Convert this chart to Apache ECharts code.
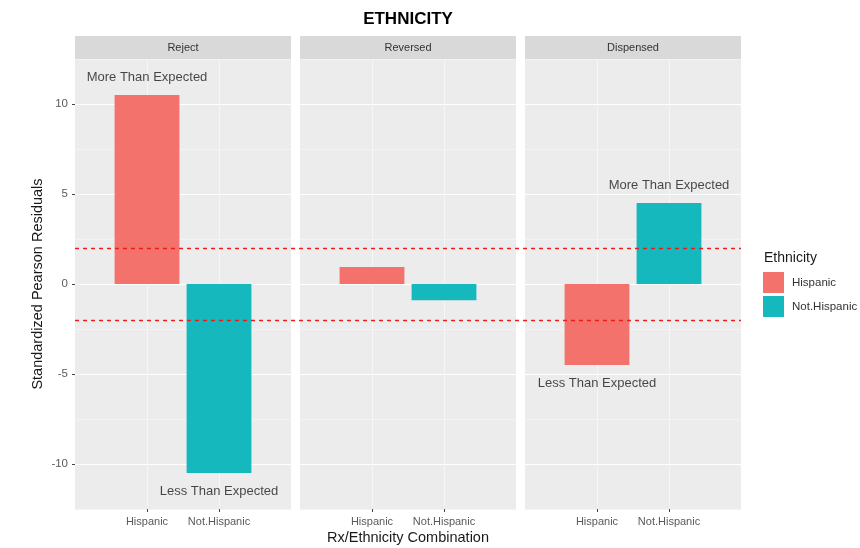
<!DOCTYPE html>
<html>
<head>
<meta charset="utf-8">
<script src="https://cdn.jsdelivr.net/npm/echarts@6/dist/echarts.min.js"></script>
<style>
  html, body { margin: 0; padding: 0; background: #ffffff; }
  #chart { width: 860px; height: 548px; }
</style>
</head>
<body>
<div id="chart"></div>
<script>
// Standardized Pearson residuals by Rx outcome and ethnicity
const panels = ['Reject', 'Reversed', 'Dispensed'];
const categories = ['Hispanic', 'Not.Hispanic'];
const hispanic = [10.5, 0.95, -4.5];
const notHispanic = [-10.5, -0.9, 4.5];
const thresholds = [2, -2];
const yTicks = [-10, -5, 0, 5, 10];

// text notes placed over the bars
const notePanel = ['Reject', 'Reject', 'Dispensed', 'Dispensed'];
const noteCategory = ['Hispanic', 'Not.Hispanic', 'Not.Hispanic', 'Hispanic'];
const noteY = [11.5, -11.5, 5.5, -5.5];
const noteText = ['More Than Expected', 'Less Than Expected', 'More Than Expected', 'Less Than Expected'];

const FONT = '"Liberation Sans", Arial, sans-serif';
const COLORS = { 'Hispanic': '#F3736C', 'Not.Hispanic': '#14B8BD' };
const PANEL_LEFT = [75, 300, 525];
const PANEL_W = 216;
const PANEL_TOP = 59;
const PANEL_H = 450;
const Y_MIN = -12.5, Y_MAX = 12.5;
const PX_PER_UNIT = PANEL_H / (Y_MAX - Y_MIN);

// one empty slot on each side so the two categories sit at 1/3 and 2/3 of a panel
const slots = [' '].concat(categories, ['  ']);
const isInner = (idx) => idx > 0 && idx < slots.length - 1;

const grid = [], xAxis = [], yAxis = [], series = [];

panels.forEach((panel, i) => {
  grid.push({
    left: PANEL_LEFT[i], top: PANEL_TOP, width: PANEL_W, height: PANEL_H,
    show: true, backgroundColor: '#ECECEC', borderWidth: 0,
    containLabel: false, outerBoundsMode: 'none'
  });
  xAxis.push({
    gridIndex: i, type: 'category', data: slots, boundaryGap: false, position: 'bottom',
    axisLine: { show: false, onZero: false },
    axisTick: { show: true, interval: isInner, length: 3, lineStyle: { color: '#444' } },
    axisLabel: { interval: 0, formatter: (v) => v.trim(), fontSize: 11, color: '#5A5A5A', margin: 7, fontFamily: FONT },
    splitLine: { show: true, interval: isInner, lineStyle: { color: '#F6F6F6', width: 1 } }
  });
  yAxis.push({
    gridIndex: i, type: 'value', min: Y_MIN, max: Y_MAX, interval: 2.5,
    axisLabel: { show: false }, axisTick: { show: false }, axisLine: { show: false },
    splitLine: { show: true, lineStyle: { color: ['#F3F3F3', '#FFFFFF'], width: 1 } }
  });

  series.push({
    type: 'bar', name: 'Hispanic', xAxisIndex: i, yAxisIndex: i,
    data: slots.map((s) => (s === 'Hispanic' ? hispanic[i] : null)),
    barWidth: '90%', barGap: '-100%', z: 2,
    itemStyle: { color: COLORS['Hispanic'] }
  });
  series.push({
    type: 'bar', name: 'Not.Hispanic', xAxisIndex: i, yAxisIndex: i,
    data: slots.map((s) => (s === 'Not.Hispanic' ? notHispanic[i] : null)),
    barWidth: '90%', barGap: '-100%', z: 2,
    itemStyle: { color: COLORS['Not.Hispanic'] }
  });

  const notes = [];
  notePanel.forEach((p, n) => {
    if (p === panel) {
      notes.push({ name: noteText[n], value: [slots.indexOf(noteCategory[n]), noteY[n]] });
    }
  });
  if (notes.length) {
    series.push({
      type: 'scatter', xAxisIndex: i, yAxisIndex: i, data: notes,
      symbolSize: 1, itemStyle: { color: 'rgba(0,0,0,0)' }, z: 6, silent: true,
      label: { show: true, position: 'inside', formatter: '{b}', fontSize: 13, color: '#1A1A1A', fontFamily: FONT }
    });
  }
});

// overlay spanning all panels for the ±2 reference lines
const overlay = grid.length;
grid.push({
  left: PANEL_LEFT[0], top: PANEL_TOP,
  width: PANEL_LEFT[2] + PANEL_W - PANEL_LEFT[0], height: PANEL_H,
  show: false, containLabel: false, outerBoundsMode: 'none'
});
xAxis.push({ gridIndex: overlay, type: 'value', min: 0, max: 1, show: false });
yAxis.push({ gridIndex: overlay, type: 'value', min: Y_MIN, max: Y_MAX, show: false });
series.push({
  type: 'line', xAxisIndex: overlay, yAxisIndex: overlay,
  data: [[0, 0]], symbol: 'none', lineStyle: { opacity: 0 }, z: 5, silent: true,
  markLine: {
    silent: true, symbol: 'none', label: { show: false },
    lineStyle: { color: '#EE1C1C', type: [4, 4], width: 1.3 },
    data: thresholds.map((t) => ({ yAxis: t }))
  }
});

// left axis with ticks only at the labelled values
const tickGrid = grid.length;
const tMax = Math.max(...yTicks), tMin = Math.min(...yTicks);
grid.push({
  left: PANEL_LEFT[0], width: 10,
  top: PANEL_TOP + (Y_MAX - tMax) * PX_PER_UNIT,
  height: (tMax - tMin) * PX_PER_UNIT,
  show: false, containLabel: false, outerBoundsMode: 'none'
});
xAxis.push({ gridIndex: tickGrid, type: 'value', show: false });
yAxis.push({
  gridIndex: tickGrid, type: 'value', min: tMin, max: tMax, interval: 5,
  axisLine: { show: false, onZero: false },
  axisTick: { show: true, length: 3, lineStyle: { color: '#444' } },
  axisLabel: { show: true, fontSize: 11.5, color: '#5A5A5A', margin: 7, fontFamily: FONT },
  splitLine: { show: false }
});

// facet strips, title and axis titles
const graphic = [];
panels.forEach((panel, i) => {
  graphic.push({
    type: 'rect', shape: { x: PANEL_LEFT[i], y: 36, width: PANEL_W, height: 23 },
    style: { fill: '#D9D9D9' }, silent: true
  });
  graphic.push({
    type: 'text', x: PANEL_LEFT[i] + PANEL_W / 2, y: 47.5, silent: true,
    style: { text: panel, fontSize: 11, fill: '#333', fontFamily: FONT, align: 'center', verticalAlign: 'middle' }
  });
});
const plotCenter = (PANEL_LEFT[0] + PANEL_LEFT[2] + PANEL_W) / 2;
graphic.push({
  type: 'text', x: plotCenter, y: 19, silent: true,
  style: { text: 'ETHNICITY', fontSize: 17, fontWeight: 'bold', fill: '#000', fontFamily: FONT, align: 'center', verticalAlign: 'middle' }
});
graphic.push({
  type: 'text', x: plotCenter, y: 538, silent: true,
  style: { text: 'Rx/Ethnicity Combination', fontSize: 14.5, fill: '#1A1A1A', fontFamily: FONT, align: 'center', verticalAlign: 'middle' }
});
graphic.push({
  type: 'text', x: 38, y: PANEL_TOP + PANEL_H / 2, rotation: Math.PI / 2, silent: true,
  style: { text: 'Standardized Pearson Residuals', fontSize: 14.5, fill: '#1A1A1A', fontFamily: FONT, align: 'center', verticalAlign: 'middle' }
});
graphic.push({
  type: 'text', x: 764, y: 258, silent: true,
  style: { text: 'Ethnicity', fontSize: 14, fill: '#1A1A1A', fontFamily: FONT, align: 'left', verticalAlign: 'middle' }
});

const chart = echarts.init(document.getElementById('chart'), null, { renderer: 'canvas' });
chart.setOption({
  animation: false,
  backgroundColor: '#ffffff',
  textStyle: { fontFamily: FONT },
  grid, xAxis, yAxis, series, graphic,
  legend: {
    data: categories, orient: 'vertical', left: 763, top: 272,
    itemWidth: 21, itemHeight: 21, itemGap: 3, padding: 0, icon: 'rect',
    selectedMode: false,
    textStyle: { fontSize: 11.5, color: '#333', fontFamily: FONT, padding: [0, 0, 0, 3] }
  }
});
</script>
</body>
</html>
